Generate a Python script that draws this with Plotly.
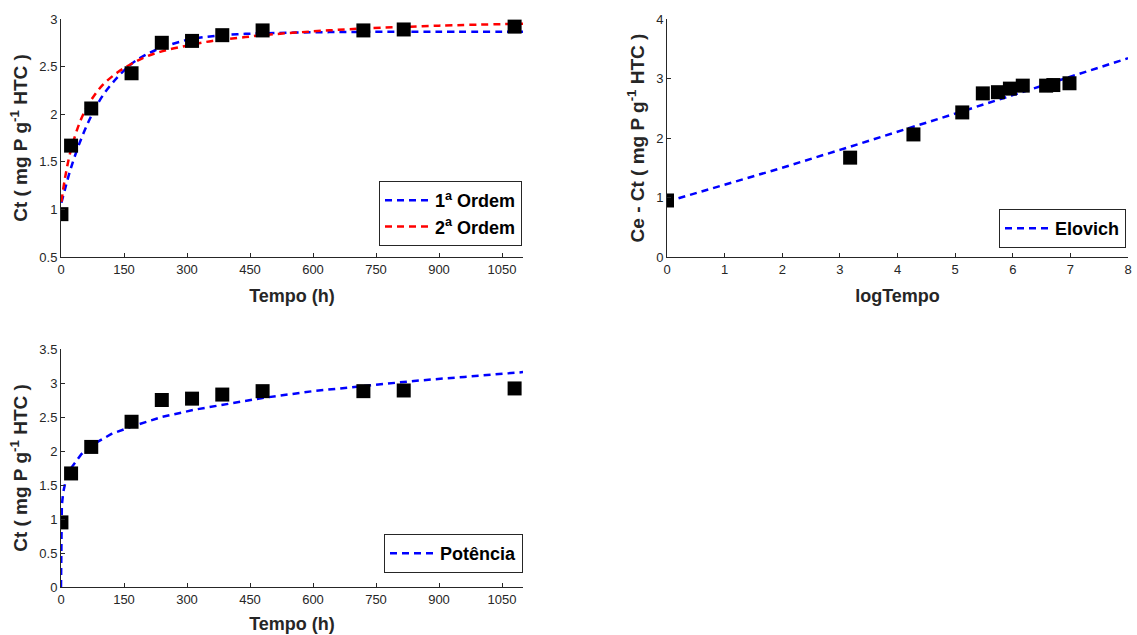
import plotly.graph_objects as go
import numpy as np

# ---- data ----
tempo = [1, 24, 72, 168, 240, 312, 384, 480, 720, 816, 1080]
ct = [0.95, 1.67, 2.06, 2.43, 2.75, 2.77, 2.83, 2.88, 2.88, 2.89, 2.92]

fit_t = [1, 10, 24, 48, 72, 100, 135, 168, 200, 240, 300, 360, 420, 480, 600, 720, 900, 1100]
ordem1 = [1.07, 1.22, 1.44, 1.74, 1.98, 2.20, 2.39, 2.53, 2.62, 2.70, 2.78, 2.82, 2.84, 2.85, 2.86, 2.865, 2.866, 2.866]
ordem2 = [1.08, 1.34, 1.63, 1.95, 2.15, 2.31, 2.44, 2.53, 2.60, 2.66, 2.72, 2.77, 2.80, 2.83, 2.87, 2.90, 2.93, 2.95]

elov_x = [0, 1, 2, 3, 4, 5, 6, 7, 8]
elovich = [0.93, 1.21, 1.50, 1.80, 2.10, 2.41, 2.72, 3.03, 3.34]

pot_t = [0, 1, 2, 5, 10, 24, 48, 72, 120, 168, 240, 320, 400, 480, 600, 720, 840, 960, 1100]
potencia = [0, 1.08, 1.20, 1.38, 1.53, 1.75, 1.95, 2.08, 2.25, 2.36, 2.50, 2.61, 2.70, 2.78, 2.88, 2.96, 3.03, 3.09, 3.16]

log_tempo = np.log(tempo)

x_ticks = [0, 150, 300, 450, 600, 750, 900, 1050]

# ---- styles ----
FONT = "Liberation Sans, Arial, sans-serif"
AX = "#262626"
BLUE = "#0000ff"
RED = "#ff0000"
DASH = "7px,5px"
LW = 2.5
MK = dict(symbol="square", size=14, color="black", line=dict(width=0))

fig = go.Figure()

# top-left
fig.add_trace(go.Scatter(x=fit_t, y=ordem1, mode="lines", line=dict(color=BLUE, width=LW, dash=DASH, shape="spline"),
                         name="<b>1<sup>a</sup> Ordem</b>", xaxis="x", yaxis="y", legend="legend"))
fig.add_trace(go.Scatter(x=fit_t, y=ordem2, mode="lines", line=dict(color=RED, width=LW, dash=DASH, shape="spline"),
                         name="<b>2<sup>a</sup> Ordem</b>", xaxis="x", yaxis="y", legend="legend"))
fig.add_trace(go.Scatter(x=tempo, y=ct, mode="markers", marker=MK, showlegend=False, xaxis="x", yaxis="y"))

# top-right
fig.add_trace(go.Scatter(x=elov_x, y=elovich, mode="lines", line=dict(color=BLUE, width=LW, dash=DASH),
                         name="<b>Elovich</b>", xaxis="x2", yaxis="y2", legend="legend2"))
fig.add_trace(go.Scatter(x=log_tempo, y=ct, mode="markers", marker=MK, showlegend=False, xaxis="x2", yaxis="y2"))

# bottom-left
fig.add_trace(go.Scatter(x=pot_t, y=potencia, mode="lines", line=dict(color=BLUE, width=LW, dash=DASH),
                         name="<b>Potência</b>", xaxis="x3", yaxis="y3", legend="legend3"))
fig.add_trace(go.Scatter(x=tempo, y=ct, mode="markers", marker=MK, showlegend=False, xaxis="x3", yaxis="y3"))

W, H = 1137, 635


def px_x(p):
    return p / W


def px_y(p):
    return 1 - p / H


def axis(domain, rng, tickvals, title, anchor, standoff, tsize=18):
    return dict(
        domain=domain, range=rng, tickvals=tickvals, anchor=anchor,
        showline=True, linecolor=AX, linewidth=1, ticks="inside", ticklen=4, tickcolor=AX, tickwidth=1,
        tickfont=dict(family=FONT, size=13, color=AX), showgrid=False, zeroline=False, automargin=False,
        title=dict(text=title, font=dict(family=FONT, size=tsize, color=AX), standoff=standoff),
    )


xd_left = [px_x(61), px_x(523)]
xd_right = [px_x(667), px_x(1128)]
yd_top = [px_y(257), px_y(19)]
yd_bot = [px_y(587), px_y(349)]

ytitle = "<b>Ct ( mg P g<sup>-1</sup> HTC )</b>"

legend_common = dict(bordercolor=AX, borderwidth=1, bgcolor="white", xanchor="right", yanchor="bottom",
                     font=dict(family=FONT, size=18, color="black"), tracegroupgap=0, itemwidth=45)

fig.update_layout(
    width=W, height=H, margin=dict(l=0, r=0, t=0, b=0),
    paper_bgcolor="white", plot_bgcolor="white",
    xaxis=axis(xd_left, [0, 1100], x_ticks, "<b>Tempo (h)</b>", "y", 13),
    yaxis=axis(yd_top, [0.5, 3], [0.5, 1, 1.5, 2, 2.5, 3], ytitle, "x", 6, 19),
    xaxis2=axis(xd_right, [0, 8], list(range(0, 9)), "<b>logTempo</b>", "y2", 13),
    yaxis2=axis(yd_top, [0, 4], [0, 1, 2, 3, 4], "<b>Ce - Ct ( mg P g<sup>-1</sup> HTC )</b>", "x2", 6, 19),
    xaxis3=axis(xd_left, [0, 1100], x_ticks, "<b>Tempo (h)</b>", "y3", 11),
    yaxis3=axis(yd_bot, [0, 3.5], [0, 0.5, 1, 1.5, 2, 2.5, 3, 3.5], ytitle, "x3", 6, 19),
    legend=dict(x=px_x(522), y=px_y(246), **legend_common),
    legend2=dict(x=px_x(1126), y=px_y(248), **legend_common),
    legend3=dict(x=px_x(523), y=px_y(573), **legend_common),
)

fig.write_html("out.html", config={"displayModeBar": False},
               post_script="document.body.style.margin='0';document.body.style.padding='0';")
